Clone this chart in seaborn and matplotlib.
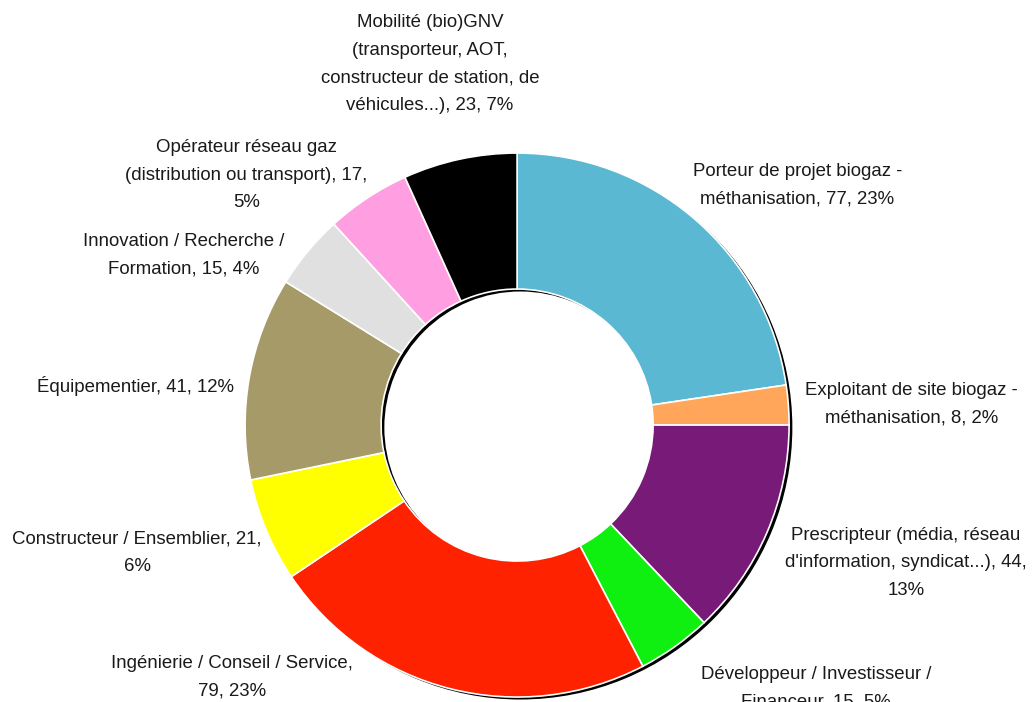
import textwrap
import matplotlib
matplotlib.use("Agg")
import matplotlib.pyplot as plt
from matplotlib.patches import Wedge
import seaborn as sns

# categories, counts and the rounded shares shown in the labels
categories = ["Porteur de projet biogaz - méthanisation",
              "Exploitant de site biogaz - méthanisation",
              "Prescripteur (média, réseau d'information, syndicat...)",
              "Développeur / Investisseur / Financeur",
              "Ingénierie / Conseil / Service",
              "Constructeur / Ensemblier",
              "Équipementier",
              "Innovation / Recherche / Formation",
              "Opérateur réseau gaz (distribution ou transport)",
              "Mobilité (bio)GNV (transporteur, AOT, constructeur de station, de véhicules...)"]
counts = [77, 8, 44, 15, 79, 21, 41, 15, 17, 23]
shares = [23, 2, 13, 5, 23, 6, 12, 4, 5, 7]

colors = ["#5ab8d2", "#ffa65a", "#781a78", "#10f010", "#ff2200",
          "#ffff00", "#a59a68", "#e0e0e0", "#ff9ee0", "#000000"]

# label layout (wrap width and centre in radius units)
wrap_widths = [26, 27, 32, 28, 31, 30, 40, 24, 32, 27]
label_pos = [(1.03, 0.88), (1.45, 0.077), (1.43, -0.507), (1.10, -0.967),
             (-1.048, -0.926), (-1.397, -0.471), (-1.404, 0.143),
             (-1.224, 0.625), (-0.996, 0.919), (-0.32, 1.327)]

sns.set_theme(style="white")
plt.rcParams["font.family"] = ["Liberation Sans", "DejaVu Sans"]

fig = plt.figure(figsize=(10.32, 7.02), dpi=100)
ax = fig.add_axes([0, 0, 1, 1])

# drop shadow under the ring
ax.add_patch(Wedge((0.012, -0.009), 1.0, 0, 360, width=0.5,
                   facecolor="#000000", edgecolor="none", zorder=0))

ax.pie(counts, colors=colors, startangle=90, counterclock=False, radius=1,
       wedgeprops=dict(width=0.5, edgecolor="white", linewidth=1.2))

for name, n, p, w, (x, y) in zip(categories, counts, shares, wrap_widths, label_pos):
    txt = textwrap.fill(f"{name}, {n}, {p}%", w)
    ax.text(x, y, txt, ha="center", va="center", multialignment="center",
            fontsize=13.4, color="#1a1a1a", linespacing=1.8)

ax.set_xlim(-1.901, 1.893)
ax.set_ylim(-1.018, 1.5625)
ax.set_aspect("equal")
ax.axis("off")

fig.savefig("out.png", dpi=100)
